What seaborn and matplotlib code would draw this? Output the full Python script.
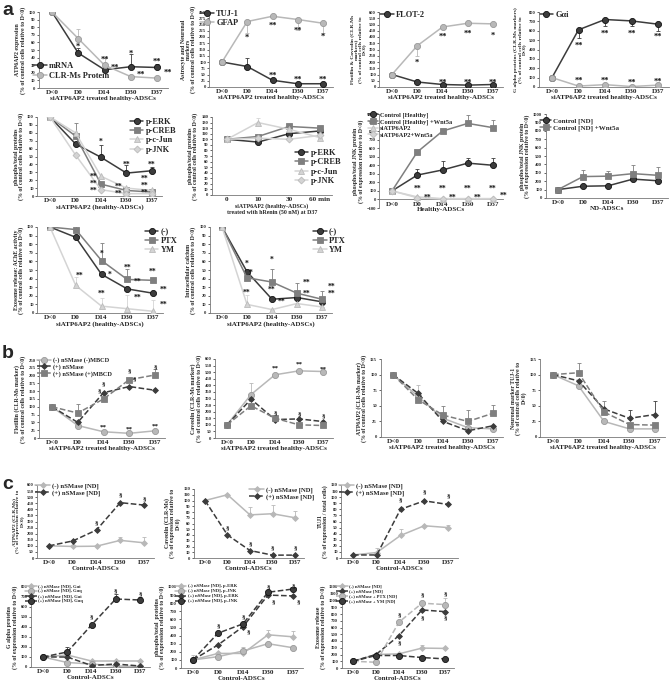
import numpy as np
import pandas as pd
import seaborn as sns
import matplotlib.pyplot as plt

sns.set_theme(style="white")
plt.rcParams['font.family'] = ['Liberation Serif', 'DejaVu Serif']
plt.rcParams['font.weight'] = 'bold'
plt.rcParams['axes.labelweight'] = 'bold'

W, H = 671, 683
days = ["D<0", "D0", "D14", "D30", "D37"]
minutes = ["0", "10", "30", "60 min"]

# ---- panel a, row 1 ----
atp_mrna = [100, 46, 24, 28, 27]
atp_protein = [100, 65, 30, 15, 13]
atp_mrna_err = [0, 6, 4, 17, 5]
atp_protein_err = [0, 13, 10, 0, 0]
tuj1 = [100, 82, 27, 13, 13]
gfap = [100, 262, 283, 270, 255]
tuj1_err = [0, 33, 0, 0, 0]
gfap_err_down = [0, 45, 0, 40, 40]
flot2 = [100, 40, 20, 15, 20]
caveolin = [100, 330, 480, 510, 505]
caveolin_err_down = [0, 80, 0, 0, 0]
gai = [100, 610, 720, 705, 670]
gaq = [100, 10, 25, 5, 20]
gai_err_down = [0, 90, 70, 55, 70]

# ---- panel a, row 2 ----
p_erk = [100, 66, 49, 29, 32]
p_creb = [100, 76, 15, 7, 5]
p_cjun = [100, 80, 25, 10, 7]
p_jnk = [100, 52, 8, 3, 3]
p_erk_err = [0, 0, 15, 10, 5]
p_creb_err = [0, 17, 0, 0, 0]
ren_erk = [100, 95, 110, 115]
ren_creb = [100, 105, 123, 120]
ren_cjun = [100, 130, 118, 103]
ren_jnk = [100, 102, 100, 107]
ren_cjun_err = [0, 8, 0, 0]
jnk_ctrl = [100, 285, 345, 425, 400]
jnk_wnt = [100, 555, 800, 890, 840]
jnk_si = [100, 30, 10, 10, 10]
jnk_si_wnt = [100, 20, 5, 5, 5]
jnk_ctrl_err = [0, 75, 100, 55, 85]
jnk_wnt_err = [0, 0, 0, 100, 90]
nd_ctrl = [100, 140, 145, 225, 205]
nd_wnt = [100, 255, 260, 290, 270]
nd_wnt_err = [0, 80, 60, 105, 100]

# ---- panel a, row 3 ----
ache_ctrl = [100, 88, 45, 28, 23]
ache_ptx = [100, 97, 61, 39, 38]
ache_ym = [100, 32, 8, 5, 2]
ache_ptx_err = [0, 8, 20, 12, 0]
ache_ym_err = [0, 10, 9, 16, 13]
ca_ctrl = [100, 48, 16, 18, 13]
ca_ptx = [100, 41, 36, 23, 16]
ca_ym = [100, 10, 4, 11, 7]
ca_ptx_err = [0, 0, 15, 12, 10]
ca_ym_err = [0, 11, 0, 0, 0]

# ---- panel b ----
b_flot_ctrl = [100, 40, 20, 15, 23]
b_flot_ns = [100, 50, 145, 165, 153]
b_flot_mbcd = [100, 80, 125, 187, 202]
b_flot_mbcd_err = [0, 30, 0, 0, 18]
b_cav_ctrl = [100, 330, 480, 510, 505]
b_cav_ns = [100, 295, 140, 145, 125]
b_cav_mbcd = [100, 245, 150, 100, 95]
b_cav_ctrl_err = [0, 90, 0, 0, 0]
b_atp_ctrl = [100, 65, 30, 15, 13]
b_atp_ns = [100, 70, 25, 10, 18]
b_atp_mbcd = [100, 60, 35, 25, 38]
b_atp_mbcd_err = [0, 0, 15, 19, 14]
b_atp_ctrl_err = [0, 18, 0, 0, 0]
b_tuj_ctrl = [100, 82, 25, 13, 13]
b_tuj_ns = [100, 90, 45, 30, 36]
b_tuj_mbcd = [100, 103, 40, 20, 19]
b_tuj_mbcd_err = [0, 15, 18, 0, 0]
b_tuj_ns_err = [0, 0, 0, 13, 21]

# ---- panel c ----
c_atp_minus = [100, 95, 97, 145, 125]
c_atp_plus = [100, 140, 230, 455, 435]
c_atp_minus_err = [0, 0, 0, 30, 45]
c_cav_minus = [100, 110, 75, 77, 70]
c_cav_plus = [100, 40, 13, 5, 5]
c_cav_minus_err = [0, 2, 13, 15, 12]
c_tuj_minus = [5, 9, 37, 53, 50]
c_tuj_plus = [5, 5, 80, 94, 88]
c_tuj_minus_err = [0, 7, 10, 0, 4]
c_g_minus_i = [100, 120, 60, 60, 60]
c_g_minus_q = [100, 45, 30, 10, 5]
c_g_plus_i = [100, 100, 15, 30, 10]
c_g_plus_q = [100, 150, 420, 680, 670]
c_g_plus_q_err = [0, 50, 0, 50, 30]
c_p_minus_erk = [100, 180, 180, 410, 385]
c_p_minus_jnk = [100, 140, 210, 300, 250]
c_p_plus_erk = [100, 285, 510, 900, 890]
c_p_plus_jnk = [100, 430, 545, 935, 975]
c_p_minus_erk_err = [60, 0, 80, 60, 70]
c_exo_minus = [100, 200, 210, 295, 290]
c_exo_plus = [100, 200, 480, 860, 835]
c_exo_ptx = [100, 85, 680, 960, 940]
c_exo_ym = [100, 185, 185, 155, 135]
c_exo_minus_err = [0, 0, 0, 40, 0]
c_exo_ptx_err = [0, 0, 0, 40, 90]

DARK, MID, LIGHT, PALE = "#3c3c3c", "#7f7f7f", "#b8b8b8", "#d4d4d4"
STY = {
    "dc": dict(color=DARK, marker="o", mfc=DARK, mec="#111111"),
    "lc": dict(color=LIGHT, marker="o", mfc=LIGHT, mec="#999999"),
    "sq": dict(color=MID, marker="s", mfc=MID, mec=MID),
    "tr": dict(color=PALE, marker="^", mfc=PALE, mec="#bbbbbb"),
    "di": dict(color=PALE, marker="D", mfc=PALE, mec="#bbbbbb"),
    "dd": dict(color=DARK, marker="D", mfc=DARK, mec=DARK),
    "ld": dict(color=LIGHT, marker="D", mfc=LIGHT, mec=LIGHT),
}

fig = plt.figure(figsize=(W / 100, H / 100), dpi=100)


def make_ax(x0, x4, ytop, ybot, ymin, ymax, step, n=5):
    s = (x4 - x0) / (n - 1)
    left, right = x0 - 0.5 * s, x4 + 0.4 * s
    ax = fig.add_axes([left / W, 1 - ybot / H, (right - left) / W, (ybot - ytop) / H])
    ax.set_xlim(-0.5, n - 1 + 0.4)
    ax.set_ylim(ymin, ymax)
    ax.set_yticks(np.arange(ymin, ymax + step / 2, step))
    ax.set_xticks(range(n))
    ax.set_xticklabels(days if n == 5 else minutes)
    for sp in ["top", "right"]:
        ax.spines[sp].set_visible(False)
    for sp in ["left", "bottom"]:
        ax.spines[sp].set_color("#777777")
        ax.spines[sp].set_linewidth(0.6)
    ax.spines["bottom"].set_position(("data", 0))
    ax.tick_params(axis="y", labelsize=3.3, length=1.5, width=0.5, pad=1, left=True)
    ax.tick_params(axis="x", labelsize=5.2, length=0, pad=1.5)
    ax.patch.set_alpha(0)
    return ax


def series(ax, vals, sty, label, dashed=False, ms=4.4, err=None, down=False):
    xs = list(range(len(vals)))
    st = STY[sty]
    sns.lineplot(x=xs, y=vals, ax=ax, color=st["color"], marker=st["marker"],
                 markerfacecolor=st["mfc"], markeredgecolor=st["mec"],
                 markeredgewidth=0.6, markersize=ms, linewidth=1.1,
                 linestyle="--" if dashed else "-", label=label, zorder=3)
    if err is not None:
        z = [0] * len(err)
        yerr = [err, z] if down else [z, err]
        ax.errorbar(xs, vals, yerr=yerr, fmt="none", ecolor=st["color"],
                    elinewidth=0.6, capsize=1.5, capthick=0.6, zorder=2)


def stars(ax, items, size=6):
    for x, y, t in items:
        ax.text(x, y, t, ha="center", va="center", fontsize=size,
                fontweight="bold", color="#111111", zorder=4)


def labels(ax, xl, yl, yfs=4.2, xfs=5.0):
    ax.set_xlabel(xl, fontsize=xfs, labelpad=0.5)
    ax.set_ylabel(yl, fontsize=yfs, labelpad=2, linespacing=0.95)


def legend(ax, loc, anchor, fs=6, hl=1.6):
    ax.legend(loc=loc, bbox_to_anchor=anchor, frameon=False, fontsize=fs,
              handlelength=hl, handletextpad=0.3, labelspacing=0.15,
              borderpad=0.1, borderaxespad=0)


sia = "siATP6AP2 treated healthy-ADSCs"
rel = "(% of control cells relative to D<0)"

# ---- a row 1 ----
ax = make_ax(52, 157, 12, 88, 0, 100, 10)
series(ax, atp_mrna, "dc", "mRNA", err=atp_mrna_err)
series(ax, atp_protein, "lc", "CLR-Ms Protein", err=atp_protein_err)
stars(ax, [(1, 54, "*"), (2, 37, "**"), (2.4, 26, "**"), (3, 45, "*"),
           (3.4, 17, "**"), (4, 34, "**"), (4.4, 20, "**")])
labels(ax, sia, "ATP6AP2 expression\n" + rel)
legend(ax, "lower left", (-0.05, 0.1), fs=6)

ax = make_ax(222, 323, 12, 87, 0, 300, 25)
series(ax, tuj1, "dc", "TUJ-1", err=tuj1_err)
series(ax, gfap, "lc", "GFAP", err=gfap_err_down, down=True)
stars(ax, [(1, 195, "*"), (2, 245, "**"), (3, 225, "**"), (4, 200, "*"),
           (2, 45, "**"), (3, 30, "**"), (4, 30, "**")])
labels(ax, sia, "Astrocyte and Neuronal\nmarkers\n" + rel)
legend(ax, "upper left", (-0.08, 1.04), fs=6)

ax = make_ax(392, 493, 12, 87, 0, 600, 50)
series(ax, flot2, "dc", "FLOT-2")
series(ax, caveolin, "lc", None, err=caveolin_err_down, down=True)
stars(ax, [(1, 190, "*"), (2, 400, "**"), (3, 425, "**"), (4, 410, "*"),
           (2, 35, "**"), (3, 35, "**"), (4, 35, "**")])
labels(ax, sia, "Flotillin & Caveolin (CLR-Ms\nmarkers)\n(% of control cells relative to\nD<0)", yfs=3.9)
legend(ax, "upper left", (0.0, 1.03), fs=6)

ax = make_ax(552, 658, 12, 87, 0, 800, 100)
series(ax, gai, "dc", "Gαi", err=gai_err_down, down=True)
series(ax, gaq, "lc", None)
stars(ax, [(1, 440, "**"), (2, 570, "**"), (3, 570, "**"), (4, 535, "**"),
           (1, 65, "**"), (2, 70, "**"), (3, 45, "**"), (4, 55, "**")])
labels(ax, sia, "G alpha proteins (CLR-Ms markers)\n(% of control cells relative to\nD<0)", yfs=3.9)
legend(ax, "upper left", (0.0, 1.03), fs=6)

# ---- a row 2 ----
ax = make_ax(50, 152, 117, 196, 0, 100, 10)
series(ax, p_erk, "dc", "p-ERK", err=p_erk_err)
series(ax, p_creb, "sq", "p-CREB", err=p_creb_err)
series(ax, p_cjun, "tr", "p-c-Jun")
series(ax, p_jnk, "di", "p-JNK", ms=3.5)
stars(ax, [(2, 68, "*"), (3, 39, "**"), (4, 40, "**"), (1.7, 24, "**"),
           (1.7, 15, "**"), (1.7, 6, "**"), (2.7, 12, "**"), (2.7, 3, "**"),
           (3.7, 22, "**"), (3.7, 13, "**"), (3.7, 4, "**")], size=5.5)
labels(ax, "siATP6AP2 (healthy-ADSCs)", "phospho/total proteins\n" + rel)
legend(ax, "upper right", (1.12, 1.0), fs=6)

ax = make_ax(227, 320, 117, 195, 0, 140, 10, n=4)
series(ax, ren_erk, "dc", "p-ERK")
series(ax, ren_creb, "sq", "p-CREB")
series(ax, ren_cjun, "tr", "p-c-Jun", err=ren_cjun_err)
series(ax, ren_jnk, "di", "p-JNK", ms=3.5)
labels(ax, "siATP6AP2 (healthy-ADSCs)\ntreated with hRenin (50 nM) at D37",
       "phospho/total proteins\n" + rel, xfs=4.2)
legend(ax, "lower right", (1.08, 0.12), fs=6)

ax = make_ax(392, 493, 114, 208, -100, 1000, 100)
series(ax, jnk_ctrl, "dc", "Control [Healthy]", err=jnk_ctrl_err)
series(ax, jnk_wnt, "sq", "Control [Healthy] +Wnt5a", err=jnk_wnt_err)
series(ax, jnk_si, "tr", "siATP6AP2")
series(ax, jnk_si_wnt, "di", "siATP6AP2+Wnt5a", ms=3.5)
stars(ax, [(1, 120, "**"), (1.4, 25, "**"), (2, 120, "**"), (2.4, 15, "**"),
           (3, 120, "**"), (3.4, 15, "**"), (4, 120, "**"), (4.4, 45, "**")], size=5.5)
labels(ax, "Healthy-ADSCs", "phospho/total JNK protein\n(% of expression relative to D<0)")
legend(ax, "upper left", (-0.1, 1.03), fs=4.6)

ax = make_ax(558, 658, 114, 198, 0, 1000, 100)
series(ax, nd_ctrl, "dc", "Control [ND]")
series(ax, nd_wnt, "sq", "Control [ND] +Wnt5a", err=nd_wnt_err)
labels(ax, "ND-ADSCs", "phospho/total JNK protein\n(% of expression relative to D<0)")
legend(ax, "upper left", (-0.05, 0.97), fs=5)

# ---- a row 3 ----
ax = make_ax(50, 153, 227, 313, 0, 100, 10)
series(ax, ache_ctrl, "dc", "(-)")
series(ax, ache_ptx, "sq", "PTX", err=ache_ptx_err)
series(ax, ache_ym, "tr", "YM", err=ache_ym_err)
stars(ax, [(1.15, 43, "**"), (2, 69, "*"), (2.3, 45, "*"), (2, 22, "**"),
           (3, 52, "**"), (3.4, 36, "**"), (3.4, 18, "**"), (4, 48, "**"),
           (4.4, 27, "**"), (4.4, 10, "**")], size=5.5)
labels(ax, "siATP6AP2 (healthy-ADSCs)", "Exosome release: AChE activity\n" + rel)
legend(ax, "upper right", (1.12, 1.0), fs=6)

ax = make_ax(222, 322, 227, 313, 0, 100, 10)
series(ax, ca_ctrl, "dc", "(-)")
series(ax, ca_ptx, "sq", "PTX", err=ca_ptx_err)
series(ax, ca_ym, "tr", "YM", err=ca_ym_err)
stars(ax, [(1, 57, "*"), (1.15, 47, "*"), (1, 24, "**"), (2, 62, "*"),
           (2, 27, "**"), (2.4, 13, "**"), (3.4, 35, "**"), (3.4, 22, "**"),
           (4.4, 31, "**"), (4.4, 22, "**")], size=5.5)
labels(ax, "siATP6AP2 (healthy-ADSCs)", "Intracellular calcium\n" + rel)
legend(ax, "upper right", (1.12, 1.0), fs=6)

# ---- panel b ----
bl = ["(-) nSMase (-)MBCD", "(+) nSMase", "(+) nSMase (+)MBCD"]
ax = make_ax(52, 155, 360, 438, 0, 250, 25)
series(ax, b_flot_ctrl, "lc", bl[0])
series(ax, b_flot_ns, "dd", bl[1], dashed=True, ms=3)
series(ax, b_flot_mbcd, "sq", bl[2], dashed=True, err=b_flot_mbcd_err)
stars(ax, [(2, 35, "**"), (3, 30, "**"), (4, 38, "**"), (1.85, 150, "§"),
           (2, 175, "§"), (3, 215, "§"), (3.2, 190, "§"), (4, 228, "§")], size=5)
labels(ax, sia, "Flotillin (CLR-Ms marker)\n" + rel)
legend(ax, "upper left", (-0.02, 1.04), fs=4.5, hl=2.2)

ax = make_ax(227, 323, 359, 438, 0, 600, 50)
series(ax, b_cav_ctrl, "lc", None, err=b_cav_ctrl_err)
series(ax, b_cav_ns, "dd", None, dashed=True, ms=3)
series(ax, b_cav_mbcd, "sq", None, dashed=True)
stars(ax, [(2, 530, "**"), (3, 560, "**"), (4, 525, "**"), (2, 190, "§"),
           (3, 185, "§"), (4, 170, "§")], size=5)
labels(ax, sia, "Caveolin (CLR-Ms marker)\n" + rel)

ax = make_ax(393, 493, 359, 437, 0, 125, 25)
series(ax, b_atp_ctrl, "lc", None, err=b_atp_ctrl_err)
series(ax, b_atp_ns, "dd", None, dashed=True, ms=3)
series(ax, b_atp_mbcd, "sq", None, dashed=True, err=b_atp_mbcd_err)
labels(ax, sia, "ATP6AP2 (CLR-Ms marker)\n" + rel)

ax = make_ax(553, 655, 359, 437, 0, 125, 25)
series(ax, b_tuj_ctrl, "lc", None)
series(ax, b_tuj_ns, "dd", None, dashed=True, ms=3, err=b_tuj_ns_err)
series(ax, b_tuj_mbcd, "sq", None, dashed=True, err=b_tuj_mbcd_err)
labels(ax, sia, "Neuronal marker TUJ-1\n(% of control cells relative to\nD<0)")

# ---- panel c ----
cl = ["(-) nSMase [ND]", "(+) nSMase [ND]"]
ax = make_ax(49, 144, 485, 558, 0, 600, 50)
series(ax, c_atp_minus, "ld", cl[0], ms=3, err=c_atp_minus_err)
series(ax, c_atp_plus, "dd", cl[1], dashed=True, ms=3)
stars(ax, [(2, 290, "§"), (3, 520, "§"), (4, 490, "§")], size=5)
labels(ax, "Control-ADSCs", "ATP6AP2 (CLR-Ms)\n(% of expression relative to\nD<0)", yfs=3.9)
legend(ax, "upper left", (-0.02, 1.04), fs=4.8, hl=2.2)

ax = make_ax(205, 295, 489, 558, 0, 120, 10)
series(ax, c_cav_minus, "ld", cl[0], ms=3, err=c_cav_minus_err)
series(ax, c_cav_plus, "dd", cl[1], dashed=True, ms=3)
stars(ax, [(1, 52, "§"), (2, 25, "§"), (3, 18, "§"), (4, 18, "§")], size=5)
labels(ax, "Control-ADSCs", "Caveolin (CLR-Ms)\n(% of expression relative to\nD<0)")
legend(ax, "upper right", (1.1, 1.04), fs=4.8, hl=2.2)

ax = make_ax(353, 448, 485, 558, 0, 120, 10)
series(ax, c_tuj_minus, "ld", cl[0], ms=3, err=c_tuj_minus_err)
series(ax, c_tuj_plus, "dd", cl[1], dashed=True, ms=3)
stars(ax, [(2, 95, "§"), (3, 108, "§"), (4, 102, "§")], size=5)
labels(ax, "Control-ADSCs", "TUJ1\n(% of expression / total cells)")
legend(ax, "upper left", (-0.02, 1.04), fs=4.8, hl=2.2)

ax = make_ax(43, 140, 587, 667, 0, 800, 100)
series(ax, c_g_minus_i, "ld", "(-) nSMase [ND], Gαi", ms=3)
series(ax, c_g_minus_q, "lc", "(-) nSMase [ND], Gαq")
series(ax, c_g_plus_i, "dd", "(+) nSMase [ND], Gαi", dashed=True, ms=3)
series(ax, c_g_plus_q, "dc", "(+) nSMase [ND], Gαq", dashed=True, err=c_g_plus_q_err)
stars(ax, [(2, 500, "§"), (3, 760, "§"), (4, 730, "§")], size=5)
labels(ax, "Control-ADSCs", "G alpha proteins\n(% of expression relative to D<0)")
legend(ax, "upper left", (-0.05, 1.04), fs=3.3, hl=2.5)

ax = make_ax(193, 293, 587, 668, 0, 1000, 100)
series(ax, c_p_minus_erk, "ld", "(-) nSMase [ND], p-ERK", ms=3, err=c_p_minus_erk_err)
series(ax, c_p_minus_jnk, "lc", "(-) nSMase [ND], p-JNK")
series(ax, c_p_plus_erk, "dd", "(+) nSMase [ND], p-ERK", dashed=True, ms=3)
series(ax, c_p_plus_jnk, "dc", "(+) nSMase [ND], p-JNK", dashed=True)
stars(ax, [(1, 520, "§"), (2, 630, "§"), (2.2, 450, "§"), (3, 1000, "§"),
           (3.2, 820, "§"), (4, 1010, "§"), (4.2, 820, "§")], size=5)
labels(ax, "Control-ADSCs", "phospho/total  proteins\n(% of expression relative to D<0)")
legend(ax, "upper left", (-0.05, 1.04), fs=3.3, hl=2.5)

ax = make_ax(353, 445, 587, 668, 0, 1200, 100)
series(ax, c_exo_minus, "ld", "(-) nSMase [ND]", ms=3, err=c_exo_minus_err)
series(ax, c_exo_plus, "dd", "(+) nSMase [ND]", dashed=True, ms=3)
series(ax, c_exo_ptx, "lc", "(+) nSMase + PTX [ND]", dashed=True, err=c_exo_ptx_err)
series(ax, c_exo_ym, "dc", "(+) nSMase + YM [ND]", dashed=True)
stars(ax, [(2, 780, "§"), (2, 370, "§"), (3, 1080, "§"), (3, 740, "§"),
           (4, 1100, "§"), (4, 740, "§")], size=5)
labels(ax, "Control-ADSCs", "Exosome release\n(% of expression relative to D<0)")
legend(ax, "upper left", (-0.05, 1.04), fs=3.3, hl=2.5)

for t, y in [("a", 2), ("b", 345), ("c", 476)]:
    fig.text(2 / W, 1 - y / H, t, fontsize=14, fontweight="bold",
             family="Liberation Sans", va="top", ha="left")

fig.savefig("out.png", dpi=100)
